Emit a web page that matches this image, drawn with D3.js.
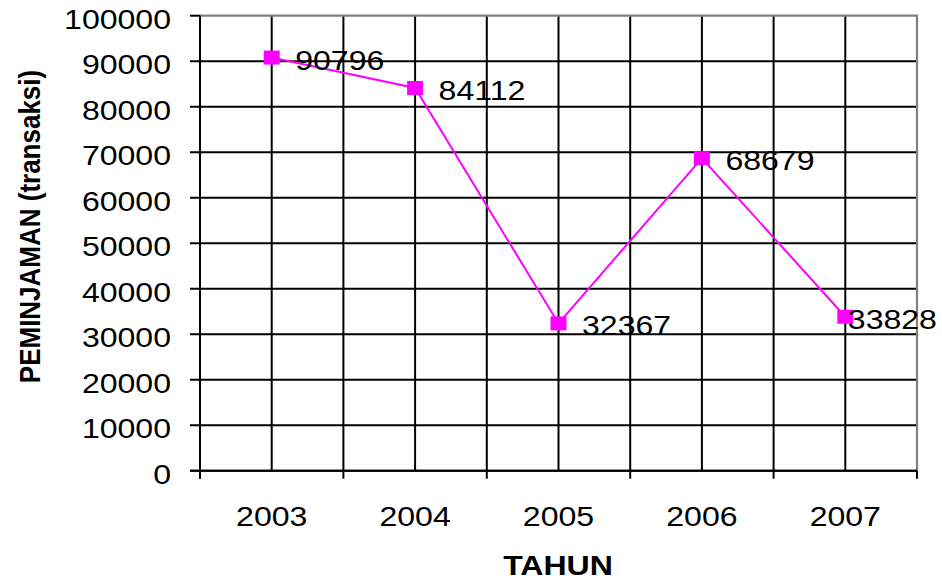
<!DOCTYPE html>
<html><head><meta charset="utf-8">
<script src="https://cdn.jsdelivr.net/npm/d3@7"></script>
<style>body{margin:0;background:#fff}svg{display:block}text{font-family:"Liberation Sans",Arial,sans-serif;fill:#000}</style>
</head><body><svg id="c" width="942" height="581"></svg>
<script>
const years = ["2003","2004","2005","2006","2007"];
const values = [90796, 84112, 32367, 68679, 33828];
const yTicks = [0,10000,20000,30000,40000,50000,60000,70000,80000,90000,100000];
const yTitle = "PEMINJAMAN (transaksi)";
const xTitle = "TAHUN";

const W = 942, H = 581, SX = 1.145;
const L = 200, R = 917, T = 15.7, B = 470.7;
const svg = d3.select("#c");
const x = d3.scaleBand().domain(years).range([L, R]).padding(0);
const y = d3.scaleLinear().domain([0, 100000]).range([B, T]);
const cx = d => x(d) + x.bandwidth() / 2;

// horizontal gridlines (and left ticks)
svg.append("g").selectAll("line").data(yTicks.filter(v => v < 100000)).join("line")
  .attr("x1", L - 10).attr("x2", R).attr("y1", d => y(d)).attr("y2", d => y(d))
  .attr("stroke", "#000").attr("stroke-width", 2);
svg.append("line").attr("x1", L - 10).attr("x2", L).attr("y1", y(100000)).attr("y2", y(100000))
  .attr("stroke", "#000").attr("stroke-width", 2);

// vertical gridlines at band edges and centers
const vLines = [];
years.forEach(d => { vLines.push(x(d)); vLines.push(cx(d)); });
svg.append("g").selectAll("line").data(vLines.filter(v => v > L + 1)).join("line")
  .attr("x1", d => d).attr("x2", d => d).attr("y1", T).attr("y2", B)
  .attr("stroke", "#000").attr("stroke-width", 2);

// top/right border gray
svg.append("path").attr("d", `M${L},${T}H${R}V${B}`).attr("fill", "none")
  .attr("stroke", "#808080").attr("stroke-width", 2.2);

// axes
svg.append("line").attr("x1", L).attr("x2", L).attr("y1", T).attr("y2", B + 8)
  .attr("stroke", "#000").attr("stroke-width", 2);
svg.append("line").attr("x1", L - 10).attr("x2", R).attr("y1", B).attr("y2", B)
  .attr("stroke", "#000").attr("stroke-width", 2);
const xTickPos = years.map(d => x(d) + x.bandwidth()).concat([L]);
svg.append("g").selectAll("line").data(xTickPos).join("line")
  .attr("x1", d => d).attr("x2", d => d).attr("y1", B).attr("y2", B + 8)
  .attr("stroke", "#000").attr("stroke-width", 2);

// y tick labels
svg.append("g").selectAll("text").data(yTicks).join("text")
  .attr("transform", d => `translate(171,${y(d) + 13}) scale(${SX},1)`)
  .attr("text-anchor", "end").attr("font-size", 28).text(d => d);

// x tick labels
svg.append("g").selectAll("text").data(years).join("text")
  .attr("transform", d => `translate(${cx(d)},526) scale(${SX},1)`)
  .attr("text-anchor", "middle").attr("font-size", 28).text(d => d);

// titles
svg.append("text").attr("transform", `translate(558,575) scale(${SX},1)`)
  .attr("text-anchor", "middle").attr("font-size", 28).attr("font-weight", "bold").text(xTitle);
svg.append("text").attr("transform", `translate(39.5,226.5) scale(${SX},1) rotate(-90)`)
  .attr("text-anchor", "middle").attr("font-size", 26).attr("font-weight", "bold").text(yTitle);

// line
const pts = years.map((d, i) => [cx(d), y(values[i])]);
svg.append("path").attr("d", d3.line()(pts)).attr("fill", "none")
  .attr("stroke", "#FF00FF").attr("stroke-width", 2);
svg.append("g").selectAll("rect").data(pts).join("rect")
  .attr("x", d => d[0] - 8).attr("y", d => d[1] - 7).attr("width", 16).attr("height", 14)
  .attr("fill", "#FF00FF");

// data labels
svg.append("g").selectAll("text").data(pts).join("text")
  .attr("font-size", 28).text((d, i) => values[i])
  .each(function(d) {
    const w = this.getComputedTextLength() * SX;
    const lx = Math.min(d[0] + 23.5, W - 5 - w);
    d3.select(this).attr("transform", `translate(${lx},${d[1] + 12}) scale(${SX},1)`);
  });
</script></body></html>
